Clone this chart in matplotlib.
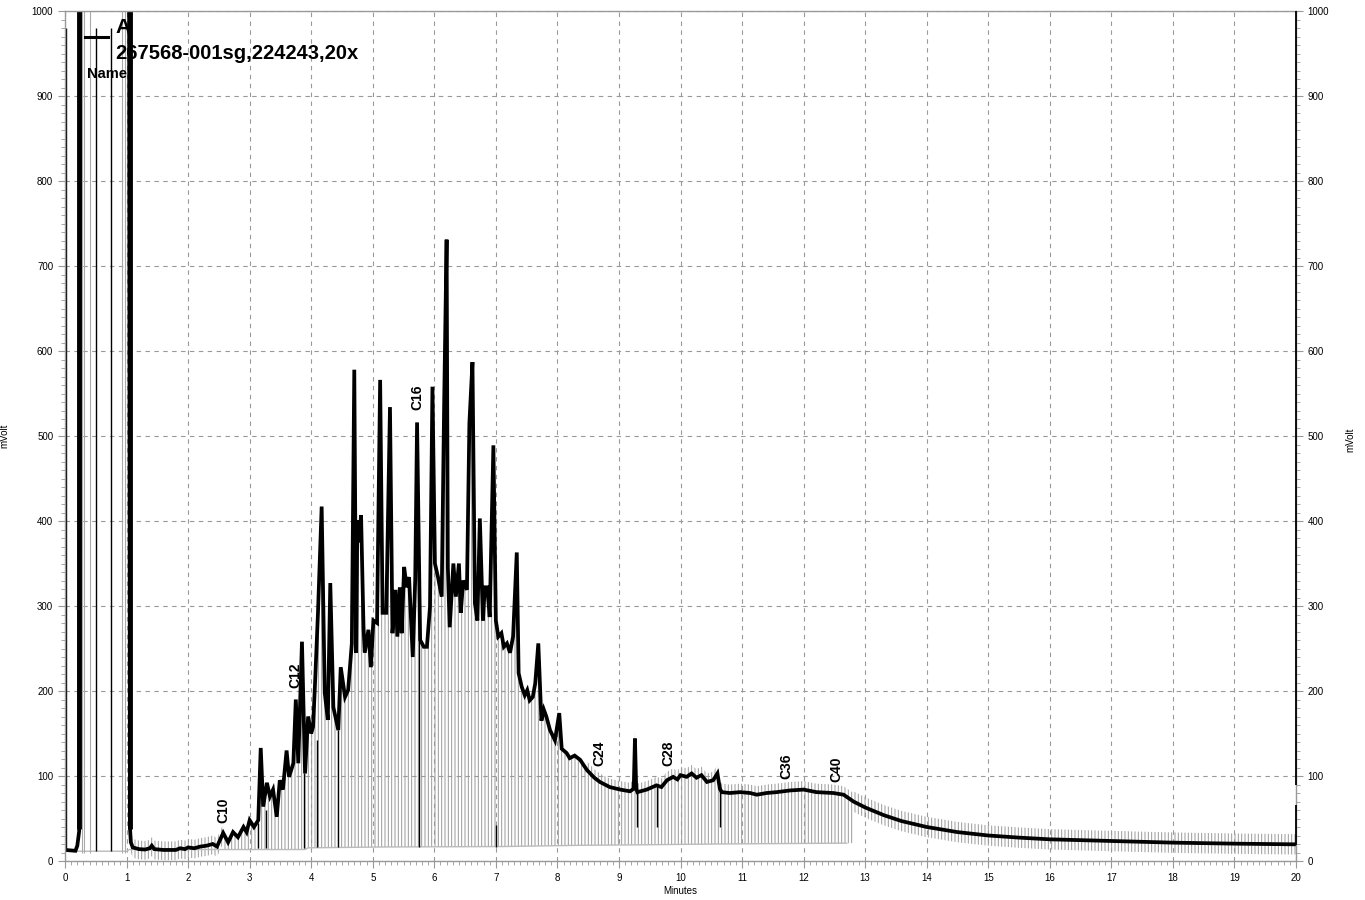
import numpy as np
import matplotlib
matplotlib.use('Agg')
import matplotlib.pyplot as plt
from matplotlib.ticker import MultipleLocator
from matplotlib.lines import Line2D

plt.rcParams['font.family'] = ['Liberation Sans', 'DejaVu Sans']
plt.rcParams['hatch.linewidth'] = 0.7

# chromatogram trace (minutes, mVolt)
t = [0.00, 0.17, 0.20, 0.23, 0.245, 1.04, 1.055, 1.07, 1.10, 1.20, 1.30, 1.38, 1.41, 1.45,
     1.60, 1.80, 1.87, 1.95, 2.00, 2.10, 2.20, 2.30, 2.40, 2.47, 2.52, 2.57, 2.65, 2.73,
     2.81, 2.90, 2.95, 3.00, 3.07, 3.14, 3.18, 3.22, 3.28, 3.33, 3.38, 3.44, 3.49, 3.54,
     3.60, 3.64, 3.71, 3.75, 3.79, 3.85, 3.90, 3.95, 4.00, 4.03, 4.06, 4.11, 4.17, 4.22,
     4.27, 4.31, 4.36, 4.44, 4.48, 4.55, 4.60, 4.66, 4.70, 4.73, 4.75, 4.78, 4.81, 4.85,
     4.87, 4.93, 4.97, 5.01, 5.07, 5.12, 5.16, 5.22, 5.28, 5.32, 5.37, 5.40, 5.44, 5.47,
     5.51, 5.55, 5.59, 5.65, 5.69, 5.72, 5.77, 5.83, 5.88, 5.93, 5.97, 6.01, 6.06, 6.12,
     6.16, 6.20, 6.22, 6.25, 6.31, 6.35, 6.40, 6.43, 6.47, 6.53, 6.57, 6.62, 6.66, 6.70,
     6.74, 6.79, 6.82, 6.86, 6.90, 6.96, 7.00, 7.04, 7.09, 7.13, 7.18, 7.23, 7.28, 7.34,
     7.37, 7.42, 7.47, 7.51, 7.55, 7.60, 7.64, 7.69, 7.74, 7.78, 7.82, 7.88, 7.96, 8.03,
     8.07, 8.15, 8.20, 8.28, 8.37, 8.48, 8.60, 8.69, 8.85, 9.02, 9.18, 9.24, 9.26, 9.28,
     9.30, 9.45, 9.61, 9.69, 9.78, 9.88, 9.95, 10.00, 10.10, 10.18, 10.26, 10.34, 10.43,
     10.53, 10.60, 10.64, 10.67, 10.80, 10.97, 11.13, 11.24, 11.40, 11.56, 11.78, 12.00,
     12.21, 12.48, 12.65, 12.81, 13.00, 13.30, 13.59, 14.00, 14.50, 15.00, 15.50, 16.00,
     16.50, 17.00, 17.50, 18.00, 18.50, 19.00, 19.50, 20.00]
mv = [13, 12, 18, 35, 1100, 1100, 40, 22, 16, 14, 13.5, 15, 18, 14,
      13, 13, 15, 14, 16, 15, 17, 18, 20, 17, 25, 33, 22, 34,
      28, 40, 34, 48, 40, 48, 133, 64, 92, 76, 84, 52, 95, 84,
      130, 99, 115, 190, 115, 258, 103, 170, 150, 158, 205, 292, 417, 198,
      166, 327, 181, 154, 228, 193, 201, 256, 578, 245, 401, 375, 407, 275,
      245, 272, 228, 283, 280, 566, 292, 292, 534, 268, 319, 264, 322, 268,
      346, 322, 334, 240, 331, 516, 260, 252, 252, 299, 558, 350, 334, 311,
      538, 731, 346, 275, 350, 311, 350, 292, 330, 319, 515, 587, 303, 283,
      403, 283, 322, 322, 287, 489, 283, 264, 268, 252, 256, 245, 264, 363,
      221, 205, 195, 201, 189, 193, 209, 256, 165, 178, 170, 154, 142, 174,
      132, 127, 121, 124, 119, 107, 98, 93, 87, 84, 82, 85, 144, 85,
      81, 84, 89, 87, 95, 99, 96, 101, 99, 103, 98, 101, 93,
      95, 103, 85, 81, 80, 81, 80, 78, 80, 81, 83, 84,
      81, 80, 78, 70, 63, 54, 47, 40, 34, 30, 27.5, 25.5,
      24.5, 23.5, 22.5, 21.6, 21, 20.4, 20, 19.6]

# integration baseline
base_t = [0.0, 1.0, 1.05, 3.9, 3.95, 5.2, 7.1, 8.4, 9.3, 10.6, 12.7]
base_mv = [11.5, 11.5, 13.5, 13.5, 15.5, 16.5, 17, 18.5, 19, 20, 21]

# black drop lines
drop_t = [3.14, 3.26, 3.88, 4.09, 4.44, 5.75, 7.01, 9.30, 9.62, 10.64]
drop_lo = [15, 15, 15, 16, 16, 17, 16, 40, 40, 40]
drop_hi = [45, 60, 103, 142, 154, 260, 42, 81, 89, 85]

# lines around the solvent peak
solv_black = [0.01, 0.5, 0.75]
solv_grey = [0.27, 0.31, 0.40, 0.92, 0.98]
solv_edges = [0.235, 1.05]

# peak labels
lab_names = ['C10', 'C12', 'C16', 'C24', 'C28', 'C36', 'C40']
lab_t = [2.57, 3.74, 5.72, 8.68, 9.81, 11.72, 12.54]
lab_mv = [45, 203, 531, 112, 112, 96, 93]

fig = plt.figure(figsize=(13.65, 9), dpi=100)
ax = fig.add_axes([65/1365, 1-861/900, (1296-65)/1365, (861-11)/900])

tt = np.array(t)
vv = np.array(mv)
bb = np.interp(tt, base_t, base_mv)

# grey hatch of drop lines under / around the trace
grey = '#999999'
m = (tt >= 1.07) & (tt < 2.6)
ax.fill_between(tt[m], vv[m] - 12, vv[m] + 10, hatch='|||||', facecolor='none', edgecolor=grey, lw=0)
m = (tt >= 2.55) & (tt < 8.5)
ax.fill_between(tt[m], bb[m], vv[m], hatch='|||||', facecolor='none', edgecolor=grey, lw=0)
m = (tt >= 8.45) & (tt < 12.85)
ax.fill_between(tt[m], bb[m], vv[m] + 10, hatch='|||||', facecolor='none', edgecolor=grey, lw=0)
m = tt >= 12.8
ax.fill_between(tt[m], vv[m] - 12, vv[m] + 12, hatch='|||||', facecolor='none', edgecolor=grey, lw=0)

ax.plot(base_t, base_mv, color='#bbbbbb', lw=1)
ax.vlines(solv_grey, 10, 1000, color='#aaaaaa', lw=0.8)
ax.vlines(solv_black, 12, 980, color='black', lw=1)
ax.vlines(drop_t, drop_lo, drop_hi, color='black', lw=1)

ax.plot(t, mv, color='black', lw=2.7, solid_joinstyle='miter')
ax.vlines(solv_edges, 38, 1000, color='black', lw=3.5)

# right edge marker line
ax.vlines([20, 20], [19, 89], [66, 1000], color='black', lw=1.3, clip_on=False, zorder=5)

for name, x, y in zip(lab_names, lab_t, lab_mv):
    ax.text(x, y, name, rotation=90, ha='center', va='bottom', fontsize=10,
            fontweight='bold', color='black')

ax.set_xlim(0, 20)
ax.set_ylim(0, 1000)
ax.xaxis.set_major_locator(MultipleLocator(1))
ax.xaxis.set_minor_locator(MultipleLocator(0.1))
ax.yaxis.set_major_locator(MultipleLocator(100))
ax.yaxis.set_minor_locator(MultipleLocator(10))
ax.grid(True, which='major', color='#999999', ls=(0, (4, 4)), lw=0.8)
ax.set_axisbelow(True)

for s in ax.spines.values():
    s.set_color('#999999')
    s.set_linewidth(1)
ax.tick_params(which='both', colors='#999999', labelcolor='black', labelsize=7,
               right=True, labelright=True, direction='out')
ax.tick_params(which='major', length=5)
ax.tick_params(which='minor', length=3)

ax.set_xlabel('Minutes', fontsize=7, labelpad=2)
ax.set_ylabel('mVolt', fontsize=7, labelpad=16)
fig.text(1350/1365, 1-440/900, 'mVolt', rotation=90, fontsize=7, ha='center', va='center')

# legend block in the top left corner
fig.add_artist(Line2D([85/1365, 108/1365], [1-37/900, 1-37/900], color='black', lw=2.2))
fig.text(115/1365, 1-33/900, 'A', fontsize=15, fontweight='bold', va='baseline')
fig.text(115/1365, 1-59/900, '267568-001sg,224243,20x', fontsize=14.5, fontweight='bold', va='baseline')
fig.text(87/1365, 1-78/900, 'Name', fontsize=10.5, fontweight='bold', va='baseline')

fig.savefig('out.png', dpi=100)
